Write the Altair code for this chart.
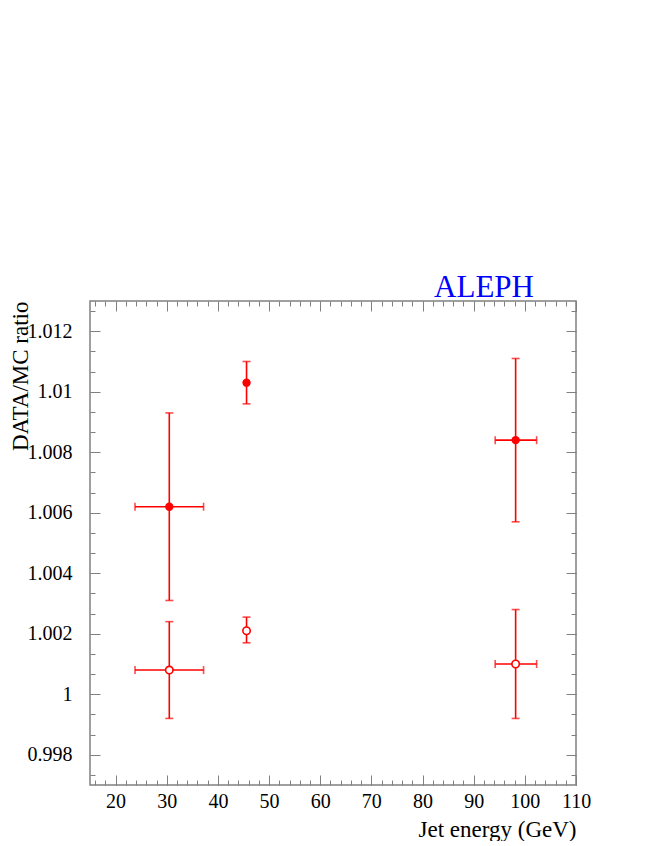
import altair as alt
import pandas as pd

# ---- data ----
series = ["closed", "closed", "closed", "open", "open", "open"]
energy = [30.5, 45.6, 98.2, 30.5, 45.6, 98.2]
energy_lo = [23.8, None, 94.2, 23.8, None, 94.2]
energy_hi = [37.2, None, 102.3, 37.2, None, 102.3]
ratio = [1.0062, 1.0103, 1.0084, 1.0008, 1.0021, 1.0010]
ratio_lo = [1.0031, 1.0096, 1.0057, 0.9992, 1.0017, 0.9992]
ratio_hi = [1.0093, 1.0110, 1.0111, 1.0024, 1.00255, 1.0028]

x_major = [20, 30, 40, 50, 60, 70, 80, 90, 100, 110]
x_minor = list(range(16, 111, 2))
y_major = [0.998, 1.0, 1.002, 1.004, 1.006, 1.008, 1.01, 1.012]
y_minor = [0.998 + k * 0.002 / 3 for k in range(-1, 23)]

df = pd.DataFrame({
    "series": series, "x": energy, "xlo": energy_lo, "xhi": energy_hi,
    "y": ratio, "ylo": ratio_lo, "yhi": ratio_hi,
})

RED = "#ff0000"
GRAY = "#808080"
FONT = "Liberation Serif"

xs = alt.Scale(domain=[15, 110], nice=False, zero=False)
ys = alt.Scale(domain=[0.997, 1.013], nice=False, zero=False)

def ax(orient, values, size, labels=False, title=None, **kw):
    p = dict(orient=orient, values=values, tickSize=size, offset=-size,
             domain=False, grid=False, labels=labels, tickColor=GRAY,
             tickWidth=1, labelFlush=False, labelOverlap=False)
    p["title"] = title
    p.update(kw)
    return alt.Axis(**p)

x_bottom_major = ax("bottom", x_major, 10, labels=True, title="Jet energy (GeV)",
                    labelFont=FONT, labelFontSize=20, labelColor="black", labelPadding=6,
                    titleFont=FONT, titleFontSize=23, titleFontWeight="normal",
                    titleColor="black", titleAnchor="end", titleBaseline="alphabetic",
                    titlePadding=25)
y_left_major = ax("left", y_major, 10, labels=True, title="DATA/MC ratio", format="~g",
                  labelFont=FONT, labelFontSize=20, labelColor="black", labelPadding=18,
                  titleFont=FONT, titleFontSize=23, titleFontWeight="normal",
                  titleColor="black", titleAnchor="end", titleBaseline="alphabetic",
                  titlePadding=0)

base = alt.Chart(df)

yerr = base.mark_rule(color=RED, strokeWidth=1.6).encode(
    x=alt.X("x:Q", scale=xs, axis=x_bottom_major),
    y=alt.Y("ylo:Q", scale=ys, axis=y_left_major),
    y2="yhi:Q",
)
xerr = base.transform_filter("isValid(datum.xlo)").mark_rule(color=RED, strokeWidth=1.6).encode(
    x=alt.X("xlo:Q", scale=xs, axis=ax("bottom", x_minor, 5)),
    x2="xhi:Q",
    y=alt.Y("y:Q", scale=ys, axis=ax("left", y_minor, 5)),
)
ycap_lo = base.mark_tick(color=RED, orient="horizontal", size=8, thickness=1.6).encode(
    x=alt.X("x:Q", scale=xs, axis=ax("top", x_major, 10)),
    y=alt.Y("ylo:Q", scale=ys, axis=ax("right", y_major, 10)),
)
ycap_hi = base.mark_tick(color=RED, orient="horizontal", size=8, thickness=1.6).encode(
    x=alt.X("x:Q", scale=xs, axis=ax("top", x_minor, 5)),
    y=alt.Y("yhi:Q", scale=ys, axis=ax("right", y_minor, 5)),
)
xcap_lo = base.transform_filter("isValid(datum.xlo)").mark_tick(
    color=RED, orient="vertical", size=8, thickness=1.6).encode(
    x=alt.X("xlo:Q", scale=xs, axis=None),
    y=alt.Y("y:Q", scale=ys, axis=None),
)
xcap_hi = base.transform_filter("isValid(datum.xhi)").mark_tick(
    color=RED, orient="vertical", size=8, thickness=1.6).encode(
    x=alt.X("xhi:Q", scale=xs, axis=None),
    y=alt.Y("y:Q", scale=ys, axis=None),
)
closed = base.transform_filter("datum.series == 'closed'").mark_point(
    shape="circle", filled=True, color=RED, size=70, opacity=1).encode(
    x=alt.X("x:Q", scale=xs, axis=None),
    y=alt.Y("y:Q", scale=ys, axis=None),
)
open_ = base.transform_filter("datum.series == 'open'").mark_point(
    shape="circle", filled=False, stroke=RED, fill="white", fillOpacity=1,
    strokeWidth=1.6, size=55, opacity=1).encode(
    x=alt.X("x:Q", scale=xs, axis=None),
    y=alt.Y("y:Q", scale=ys, axis=None),
)

chart = alt.layer(yerr, xerr, ycap_lo, ycap_hi, xcap_lo, xcap_hi, closed, open_).resolve_axis(
    x="independent", y="independent"
).properties(
    width=486, height=484,
    padding={"left": 82, "top": 293, "right": 70, "bottom": 56},
    autosize=alt.AutoSizeParams(type="none"),
    title=alt.TitleParams("ALEPH", anchor="end", frame="group", dx=-42, offset=-3,
                          color="#0000ff", font=FONT, fontSize=31, fontWeight="normal"),
).configure_view(stroke=GRAY, strokeWidth=1.5)

chart.save("out.html", embed_options={"renderer": "svg", "actions": False})
